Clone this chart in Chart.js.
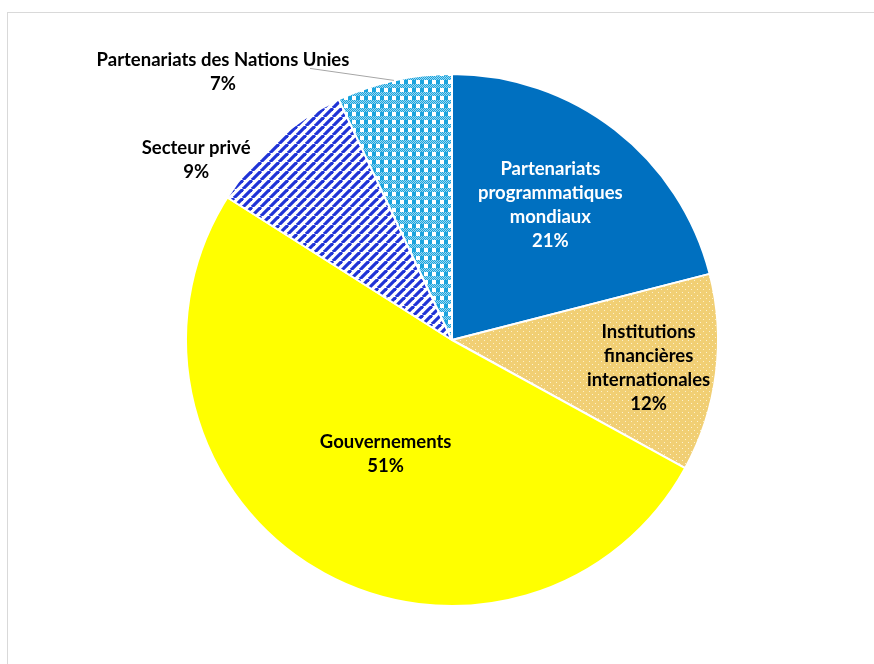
<!DOCTYPE html>
<html>
<head>
<meta charset="utf-8">
<script src="https://cdn.jsdelivr.net/npm/chart.js@4/dist/chart.umd.min.js"></script>
<style>
    body { margin: 0; background: #fff; }
    .frame { position: absolute; left: 7px; top: 12px; width: 900px; height: 700px; border: 1px solid #d9d9d9; }
    #pie { position: absolute; left: 0; top: 0; }
</style>
</head>
<body>
<div class="frame"></div>
<canvas id="pie" width="874" height="664"></canvas>
<script>
const categories = [
    ['Partenariats', 'programmatiques', 'mondiaux'],
    ['Institutions', 'financières', 'internationales'],
    ['Gouvernements'],
    ['Secteur privé'],
    ['Partenariats des Nations Unies']
];
const shares = [21, 12, 51, 9, 7];
const percentLabels = ['21%', '12%', '51%', '9%', '7%'];

const canvas = document.getElementById('pie');
const ctx = canvas.getContext('2d');

function makeTile(w, h, draw) {
    const c = document.createElement('canvas');
    c.width = w; c.height = h;
    draw(c.getContext('2d'));
    return ctx.createPattern(c, 'repeat');
}

// dotted tan
const dotted = makeTile(6, 6, g => {
    g.fillStyle = '#f1cf74';
    g.fillRect(0, 0, 6, 6);
    g.fillStyle = '#fcf1cc';
    g.fillRect(1, 1, 1, 1);
    g.fillRect(4, 4, 1, 1);
});

// blue diagonal stripes
const stripes = makeTile(9, 9, g => {
    g.fillStyle = '#ffffff';
    g.fillRect(0, 0, 9, 9);
    g.strokeStyle = '#1f33d6';
    g.lineWidth = 3.2;
    for (let k = -1; k <= 2; k++) {
        g.beginPath();
        g.moveTo(k * 9, 0);
        g.lineTo(k * 9 - 9, 9);
        g.stroke();
    }
});

// light blue gingham
const gingham = makeTile(8, 8, g => {
    g.fillStyle = '#ffffff';
    g.fillRect(0, 0, 8, 8);
    g.fillStyle = '#1aa3dd';
    g.fillRect(4, 0, 4, 4);
    for (let y = 4; y < 8; y++) {
        for (let x = 0; x < 8; x++) {
            g.fillStyle = (x + y) % 2 === 0 ? '#1aa3dd' : '#9ad8f2';
            g.fillRect(x, y, 1, 1);
        }
    }
});

const fills = ['#0070c0', dotted, '#ffff00', stripes, gingham];
const textColors = ['#ffffff', '#000000', '#000000', '#000000', '#000000'];
// radius factor along slice middle, plus extra shift
const labelPlace = [
    { f: 0.64, dx: -6, dy: 0 },
    { f: 0.745, dx: 0, dy: 3 },
    { f: 0.49, dx: 0, dy: 2 },
    { f: 1.0, dx: -80, dy: 20 },
    { f: 1.0, dx: -171, dy: -8 }
];

const sliceLabels = {
    id: 'sliceLabels',
    afterDatasetsDraw(chart) {
        const c = chart.ctx;
        const arcs = chart.getDatasetMeta(0).data;
        c.save();
        c.font = 'bold 18.5px Lato';
        c.textAlign = 'center';
        c.textBaseline = 'middle';
        arcs.forEach((arc, i) => {
            const mid = (arc.startAngle + arc.endAngle) / 2;
            const p = labelPlace[i];
            const r = arc.outerRadius * p.f;
            const x = arc.x + Math.cos(mid) * r + p.dx;
            const y = arc.y + Math.sin(mid) * r + p.dy;
            const lines = categories[i].concat([percentLabels[i]]);
            const lh = 24;
            const top = y - (lines.length - 1) * lh / 2;
            if (i === 4) {
                // leader line
                c.strokeStyle = '#a6a6a6';
                c.lineWidth = 1;
                c.beginPath();
                c.moveTo(x + 87, top + 8);
                c.lineTo(arc.x + Math.cos(mid) * arc.outerRadius, arc.y + Math.sin(mid) * arc.outerRadius);
                c.stroke();
            }
            c.fillStyle = textColors[i];
            lines.forEach((t, j) => c.fillText(t, x, top + j * lh));
        });
        c.restore();
    }
};

new Chart(ctx, {
    type: 'pie',
    data: {
        labels: categories.map(l => l.join(' ')),
        datasets: [{
            data: shares,
            backgroundColor: fills,
            borderColor: '#ffffff',
            borderWidth: 2,
            hoverOffset: 0
        }]
    },
    options: {
        responsive: false,
        animation: false,
        radius: 266,
        layout: { padding: { left: 30, right: 0, top: 16, bottom: 0 } },
        plugins: {
            legend: { display: false },
            tooltip: { enabled: false }
        }
    },
    plugins: [sliceLabels]
});
</script>
</body>
</html>
